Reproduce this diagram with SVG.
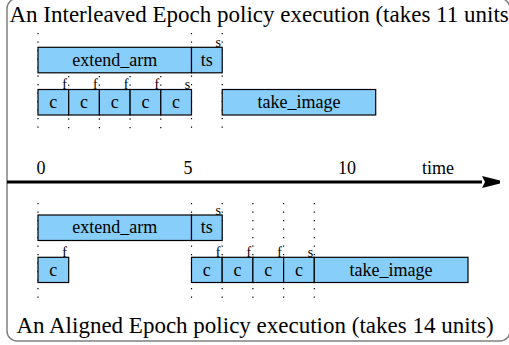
<svg xmlns="http://www.w3.org/2000/svg" width="509" height="345" viewBox="0 0 509 345">
<defs>
<style>
.box{fill:#87cefa;stroke:#000;stroke-width:1.2}
.lbl{font-family:"Liberation Serif","Times New Roman",serif;font-size:18px;text-anchor:middle;fill:#000}
.sm{font-family:"Liberation Serif","Times New Roman",serif;font-size:14px;text-anchor:end;fill:#000}
.title{font-family:"Liberation Serif","Times New Roman",serif;font-size:23px;fill:#000}
.dot{stroke:#000;stroke-width:1.2;stroke-dasharray:1.2 7.3;fill:none}
</style>
<marker id="arr" markerWidth="6" markerHeight="4" refX="0" refY="2" orient="auto" markerUnits="strokeWidth">
<path d="M0,0 L6,1.5 L6,2.5 L0,4 L1,2 Z" fill="#000"/>
</marker>
</defs>
<rect x="7" y="-1.5" width="503" height="342.5" rx="10" ry="10" fill="#fff" stroke="#808080" stroke-width="1.5"/>
<text class="title" x="9.5" y="22">An Interleaved Epoch policy execution (takes 11 units</text>
<text class="title" x="255" y="333" text-anchor="middle">An Aligned Epoch policy execution (takes 14 units)</text>

<g id="ticks">
<line class="dot" x1="38" y1="33" x2="38" y2="130"/>
<line class="dot" x1="191.5" y1="33" x2="191.5" y2="130"/>
<line class="dot" x1="222.2" y1="33" x2="222.2" y2="130"/>
<line class="dot" x1="68.7" y1="76" x2="68.7" y2="130"/>
<line class="dot" x1="99.4" y1="76" x2="99.4" y2="130"/>
<line class="dot" x1="130.1" y1="76" x2="130.1" y2="130"/>
<line class="dot" x1="160.8" y1="76" x2="160.8" y2="130"/>
<line class="dot" x1="38" y1="203" x2="38" y2="298"/>
<line class="dot" x1="191.5" y1="203" x2="191.5" y2="298"/>
<line class="dot" x1="222.2" y1="203" x2="222.2" y2="298"/>
<line class="dot" x1="252.9" y1="203" x2="252.9" y2="298"/>
<line class="dot" x1="283.6" y1="203" x2="283.6" y2="298"/>
<line class="dot" x1="314.3" y1="203" x2="314.3" y2="298"/>
</g>

<g id="connectors">
<line x1="7" y1="182" x2="482" y2="182" stroke="#000" stroke-width="3" marker-end="url(#arr)"/>
</g>

<g id="axis-labels">
<text class="lbl" x="41" y="174">0</text>
<text class="lbl" x="188" y="174">5</text>
<text class="lbl" x="347" y="174">10</text>
<text class="lbl" x="438" y="174">time</text>
</g>

<!-- Interleaved -->
<g id="i-extend_arm"><rect class="box" x="38" y="47.3" width="153.5" height="25.5"/><text class="lbl" x="114.7" y="65.5">extend_arm</text></g>
<g id="i-ts"><rect class="box" x="191.5" y="47.3" width="30.7" height="25.5"/><text class="lbl" x="206.8" y="65.5">ts</text><text class="sm" x="221" y="47">s</text></g>
<g id="i-c1"><rect class="box" x="38" y="89.5" width="30.7" height="25.5"/><text class="lbl" x="53.3" y="108">c</text><text class="sm" x="67" y="89">f</text></g>
<g id="i-c2"><rect class="box" x="68.7" y="89.5" width="30.7" height="25.5"/><text class="lbl" x="84" y="108">c</text><text class="sm" x="97.7" y="89">f</text></g>
<g id="i-c3"><rect class="box" x="99.4" y="89.5" width="30.7" height="25.5"/><text class="lbl" x="114.7" y="108">c</text><text class="sm" x="128.4" y="89">f</text></g>
<g id="i-c4"><rect class="box" x="130.1" y="89.5" width="30.7" height="25.5"/><text class="lbl" x="145.4" y="108">c</text><text class="sm" x="159.1" y="89">f</text></g>
<g id="i-c5"><rect class="box" x="160.8" y="89.5" width="30.7" height="25.5"/><text class="lbl" x="176.1" y="108">c</text><text class="sm" x="190.3" y="89">s</text></g>
<g id="i-take_image"><rect class="box" x="222.2" y="89.5" width="153.5" height="25.5"/><text class="lbl" x="298.9" y="108">take_image</text></g>

<!-- Aligned -->
<g id="a-extend_arm"><rect class="box" x="38" y="215" width="153.5" height="25.5"/><text class="lbl" x="114.7" y="233.2">extend_arm</text></g>
<g id="a-ts"><rect class="box" x="191.5" y="215" width="30.7" height="25.5"/><text class="lbl" x="206.8" y="233.2">ts</text><text class="sm" x="221" y="214.7">s</text></g>
<g id="a-c1"><rect class="box" x="38" y="257.3" width="30.7" height="25.2"/><text class="lbl" x="53.3" y="275.7">c</text><text class="sm" x="67" y="257">f</text></g>
<g id="a-c2"><rect class="box" x="191.5" y="257.3" width="30.7" height="25.2"/><text class="lbl" x="206.8" y="275.7">c</text><text class="sm" x="220.5" y="257">f</text></g>
<g id="a-c3"><rect class="box" x="222.2" y="257.3" width="30.7" height="25.2"/><text class="lbl" x="237.5" y="275.7">c</text><text class="sm" x="251.2" y="257">f</text></g>
<g id="a-c4"><rect class="box" x="252.9" y="257.3" width="30.7" height="25.2"/><text class="lbl" x="268.2" y="275.7">c</text><text class="sm" x="281.9" y="257">f</text></g>
<g id="a-c5"><rect class="box" x="283.6" y="257.3" width="30.7" height="25.2"/><text class="lbl" x="298.9" y="275.7">c</text><text class="sm" x="313.1" y="257">s</text></g>
<g id="a-take_image"><rect class="box" x="314.3" y="257.3" width="153.7" height="25.2"/><text class="lbl" x="391.1" y="275.7">take_image</text></g>
</svg>
